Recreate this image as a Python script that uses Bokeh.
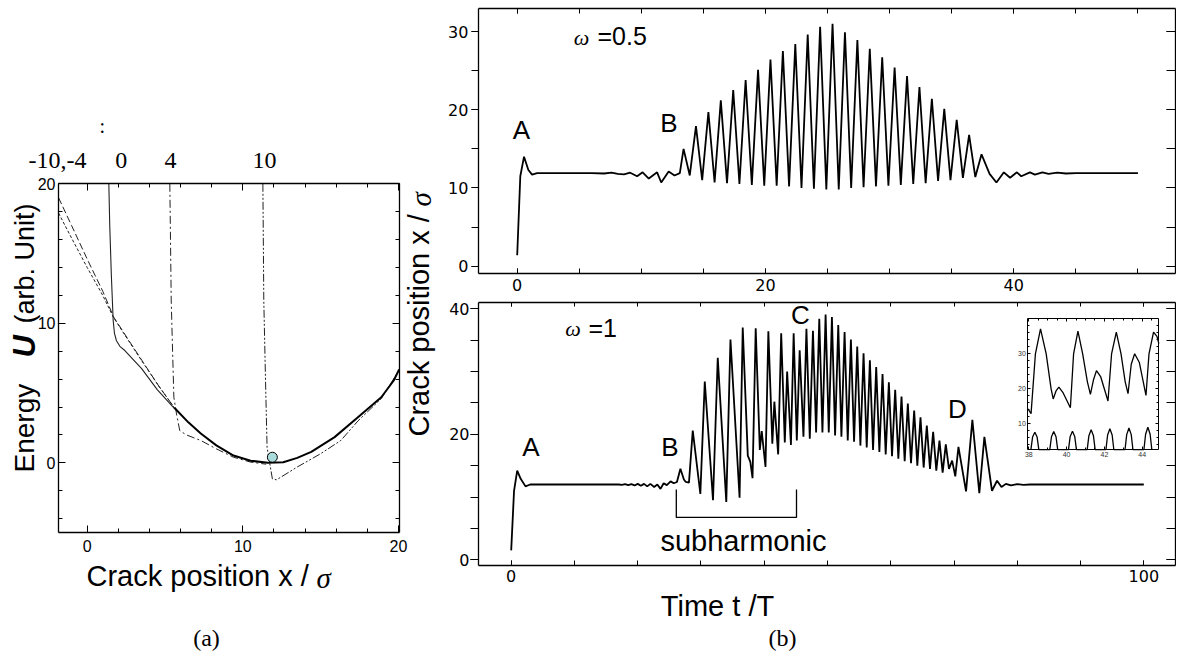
from math import pi
from bokeh.plotting import figure
from bokeh.models import (Range1d, LinearAxis, SingleIntervalTicker, Label,
                          CustomJSTickFormatter)
from bokeh.embed import file_html
from bokeh.resources import INLINE

# ---------------- data: panel (a)  energy U versus crack position x/sigma ----------------
ua_main_x = [5.6, 6.5, 7.3, 8.3, 9.4, 10.5, 11.6, 12.6, 13.5, 14.4, 15.9, 17.4, 18.9, 19.7, 20.05]
ua_main_u = [3.95, 2.9, 2.1, 1.25, 0.52, 0.15, 0.0, 0.04, 0.35, 0.78, 1.84, 3.27, 4.7, 5.9, 6.7]

ua_m10_x = [-1.84, -1.0, 0.0, 1.0, 1.7, 2.6, 3.6, 4.6, 5.6]
ua_m10_u = [19.0, 17.0, 14.6, 12.3, 10.45, 8.9, 7.2, 5.5, 3.95]

ua_m4_x = [-1.84, -1.0, 0.0, 1.0, 1.7, 2.6, 3.6, 4.6, 5.6]
ua_m4_u = [17.9, 16.1, 14.0, 12.0, 10.4, 8.85, 7.15, 5.5, 3.95]

ua_0_x = [1.39, 1.45, 1.55, 1.67, 1.75, 1.88, 2.1, 2.42, 3.5, 4.5, 5.6]
ua_0_u = [20.0, 17.0, 13.5, 10.2, 9.3, 8.75, 8.35, 8.05, 6.75, 5.25, 3.9]

ua_4_x = [5.31, 5.40, 5.50, 5.57, 5.74, 5.95, 6.38, 7.3, 8.3, 9.4, 10.5, 11.5]
ua_4_u = [20.0, 11.6, 7.5, 4.7, 3.5, 2.3, 2.0, 1.6, 1.0, 0.4, 0.05, -0.1]

ua_10_x = [11.29, 11.35, 11.46, 11.56, 11.9, 12.17, 13.5, 15.0, 16.3, 17.4, 18.9, 20.05]
ua_10_u = [20.0, 11.6, 5.9, 1.1, -1.15, -1.22, -0.3, 0.65, 1.6, 3.0, 4.6, 6.65]

ball_x = [11.9]
ball_u = [0.4]

wall_labels = ["-10,-4", "0", "4", "10"]

# ---------------- data: panel (b) top, omega = 0.5 ----------------
t_w05 = [0.0, 0.25, 0.55, 0.9, 1.2, 1.6, 6.0, 7.0, 7.6, 8.1, 8.6, 9.1, 9.66, 10.1, 10.6,
         11.27, 11.6, 12.2, 12.67, 13.1, 13.4, 13.9, 14.4, 14.9, 15.4, 15.9, 16.4, 16.9,
         17.4, 17.9, 18.4, 18.9, 19.4, 19.9, 20.4, 20.9, 21.4, 21.9, 22.4, 22.9, 23.4,
         23.9, 24.4, 24.9, 25.4, 25.9, 26.4, 26.9, 27.4, 27.9, 28.4, 28.9, 29.4, 29.9,
         30.4, 30.9, 31.4, 31.9, 32.4, 32.9, 33.4, 33.9, 34.4, 34.9, 35.4, 35.9, 36.4,
         36.9, 37.4, 38.05, 38.6, 39.2, 39.7, 40.25, 40.6, 41.3, 41.7, 42.3, 42.8, 43.5,
         44.2, 45.0, 50.0]
x_w05 = [1.4, 11.5, 14.0, 12.3, 11.7, 11.9, 11.9, 11.85, 11.95, 11.8, 11.75, 11.95, 11.5, 12.0, 11.2,
         12.0, 10.7, 12.1, 11.6, 11.9, 15.0, 11.6, 17.9, 11.0, 19.7, 10.7, 21.2, 10.6,
         22.5, 10.5, 23.8, 10.4, 25.1, 10.3, 26.4, 10.3, 27.5, 10.2, 28.4, 10.0, 29.6,
         9.9, 30.6, 9.8, 31.0, 9.8, 29.9, 10.0, 28.9, 10.1, 27.8, 10.2, 26.7, 10.3,
         25.4, 10.4, 24.3, 10.5, 22.9, 10.6, 21.4, 10.9, 20.1, 11.0, 18.7, 11.3, 16.8,
         11.4, 14.3, 11.8, 10.7, 12.0, 11.3, 12.0, 11.5, 12.0, 11.7, 12.0, 11.8, 11.95,
         11.85, 11.9, 11.9]

# ---------------- data: panel (b) bottom, omega = 1 ----------------
t_w1 = [0.0, 0.45, 0.95, 1.5, 2.26, 3.0, 17.0, 17.5, 18.0, 18.5, 19.0, 19.5, 20.0, 20.5,
        21.0, 21.5, 22.0, 22.6, 23.1, 23.6, 24.1, 24.6, 25.2, 25.7, 26.2, 26.75, 27.3,
        27.6, 28.1, 28.7, 29.9, 30.6, 31.9, 32.65, 34.0, 34.66, 36.1, 36.6, 37.4, 37.8,
        38.15, 38.65, 39.3, 39.6, 40.2, 40.65, 41.28, 41.6, 42.2, 42.68, 43.25, 43.62,
        44.22, 44.65, 45.15, 45.6, 46.2, 46.67, 47.2, 47.7, 48.2, 48.7, 49.2, 49.7, 50.2,
        50.7, 51.2, 51.7, 52.2, 52.7, 53.2, 53.7, 54.2, 54.7, 55.2, 55.7, 56.2, 56.7,
        57.2, 57.7, 58.2, 58.7, 59.2, 59.7, 60.2, 60.7, 61.2, 61.7, 62.2, 62.7, 63.2,
        63.7, 64.2, 64.7, 65.2, 65.7, 66.2, 66.7, 67.2, 67.7, 68.2, 68.7, 69.2, 69.7,
        70.2, 70.7, 71.9, 72.9, 74.0, 74.8, 76.0, 76.8, 77.5, 78.2, 79.0, 80.0, 81.0,
        82.0, 100.0]
x_w1 = [1.5, 11.0, 14.2, 12.9, 11.7, 12.0, 12.0, 11.95, 12.05, 11.9, 12.05, 11.85, 12.1, 11.8,
        12.1, 11.7, 12.1, 11.6, 12.0, 11.3, 12.2, 11.9, 12.5, 12.2, 12.4, 14.5, 12.8,
        12.4, 12.3, 20.6, 10.5, 28.4, 9.5, 32.2, 9.2, 35.1, 9.9, 37.0, 16.6, 15.6,
        13.0, 36.9, 17.5, 20.5, 14.8, 36.4, 18.5, 25.2, 16.8, 36.1, 18.7, 30.0,
        18.3, 36.1, 19.0, 33.4, 19.6, 36.8, 19.3, 36.5, 20.3, 38.4, 20.3, 39.1, 20.3,
        38.7, 19.8, 37.4, 19.6, 36.3, 19.0, 35.1, 18.8, 34.0, 18.2, 32.9, 17.9, 31.8,
        17.5, 30.7, 17.2, 29.6, 16.8, 28.3, 16.5, 27.1, 16.1, 26.0, 15.7, 24.9, 15.4,
        23.8, 15.0, 22.7, 14.7, 21.4, 14.5, 20.4, 14.2, 19.0, 13.9, 18.4, 14.5, 15.8,
        13.3, 18.0, 10.9, 22.3, 10.6, 19.6, 11.0, 12.6, 11.6, 12.1, 11.85, 12.05, 11.95,
        12.0, 12.0]

# inset (t = 38..45 of the omega = 1 run): upper trace and lower trace (arches)
inset_hi_t = [37.95, 38.12, 38.35, 38.62, 38.92, 39.18, 39.29, 39.45, 39.59, 39.8, 40.2,
              40.37, 40.6, 40.85, 41.1, 41.26, 41.42, 41.58, 41.8, 42.19, 42.38, 42.63,
              42.88, 43.1, 43.25, 43.42, 43.6, 43.85, 44.2, 44.36, 44.6, 44.78, 44.88]
inset_hi_y = [14.3, 12.9, 30.0, 37.1, 30.0, 20.0, 17.1, 19.5, 20.5, 19.0, 14.6,
              30.0, 36.5, 30.0, 22.0, 18.4, 22.5, 25.2, 23.5, 16.5, 30.0, 36.2,
              30.0, 22.0, 18.6, 27.0, 30.0, 27.5, 18.1, 30.0, 36.2, 35.0, 32.9]
inset_lo_t = [38.11, 38.20, 38.32, 38.44, 38.53, 39.11, 39.20, 39.32, 39.44, 39.53,
              40.10, 40.19, 40.31, 40.43, 40.52, 41.09, 41.18, 41.30, 41.42, 41.51,
              42.08, 42.17, 42.29, 42.41, 42.50, 43.09, 43.18, 43.30, 43.42, 43.51,
              44.09, 44.18, 44.30, 44.42, 44.51]
inset_lo_y = [2.6, 6.2, 7.6, 6.2, 2.6, 2.6, 6.3, 7.8, 6.3, 2.6,
              2.6, 6.4, 7.9, 6.4, 2.6, 2.6, 6.6, 8.3, 6.6, 2.6,
              2.6, 6.8, 8.6, 6.8, 2.6, 2.6, 6.9, 8.8, 6.9, 2.6,
              2.6, 7.0, 9.0, 7.0, 2.6]

# subharmonic bracket (time span and levels)
sub_t = [26.1, 26.1, 45.1, 45.1]
sub_y = [11.2, 6.75, 6.75, 11.2]

SANS = "Liberation Sans"
SERIF = "Liberation Serif"
TICKF = "DejaVu Sans"

W, H = 1176, 655

p = figure(width=W, height=H, x_range=Range1d(0, W), y_range=Range1d(H, 0),
           output_backend="svg", toolbar_location=None,
           x_axis_type=None, y_axis_type=None,
           min_border=0, min_border_left=0, min_border_right=0,
           min_border_top=0, min_border_bottom=0)
p.outline_line_color = None
p.background_fill_color = "white"
p.border_fill_color = "white"


def xr_from(v0, p0, v1, p1):
    s = (p1 - p0) / (v1 - v0)
    return Range1d(v0 + (0 - p0) / s, v0 + (W - p0) / s)


def yr_from(v0, p0, v1, p1):
    s = (p0 - p1) / (v1 - v0)
    return Range1d(v0 - (H - p0) / s, v0 + p0 / s)


# panel boxes (page layout -> coordinate systems)
p.extra_x_ranges = {
    "ax": xr_from(0, 86.7, 10, 242.3),
    "b1x": xr_from(0, 516.7, 40, 1013.3),
    "b2x": xr_from(0, 510.7, 100, 1143.3),
    "ix": xr_from(38, 1028.3, 44, 1141.7),
}
p.extra_y_ranges = {
    "ay": yr_from(0, 462.3, 20, 183.3),
    "b1y": yr_from(0, 265.7, 30, 31.0),
    "b2y": yr_from(0, 559.3, 40, 308.3),
    "iy": yr_from(10, 423.3, 30, 353.3),
}


def axis(side, xn, yn, fixed, bounds, interval, nminor, tin, tout, mtin, mtout,
         labels=True, font=SANS, size="16px", standoff=4, lw=1.3, color="black"):
    ax = LinearAxis(x_range_name=xn, y_range_name=yn, fixed_location=fixed, bounds=bounds,
                    ticker=SingleIntervalTicker(interval=interval, num_minor_ticks=nminor))
    ax.axis_line_color = "black"
    ax.axis_line_width = lw
    ax.major_tick_in = tin
    ax.major_tick_out = tout
    ax.minor_tick_in = mtin
    ax.minor_tick_out = mtout
    ax.major_tick_line_color = "black"
    ax.minor_tick_line_color = "black"
    ax.major_tick_line_width = 1
    ax.minor_tick_line_width = 1
    if labels:
        ax.major_label_text_font = font
        ax.major_label_text_font_size = size
        ax.major_label_standoff = standoff
        ax.major_label_text_color = color
    else:
        ax.formatter = CustomJSTickFormatter(code="return ''")
        ax.major_label_text_font_size = "1px"
        ax.major_label_standoff = 0
    p.add_layout(ax, side)
    return ax


def lab(px, py, text, font=SANS, size="25px", style="normal",
        align="center", baseline="middle", angle=0.0):
    p.add_layout(Label(x=px, y=py, text=text, text_font=font, text_font_size=size,
                       text_font_style=style, text_align=align, text_baseline=baseline,
                       angle=angle, text_color="black"))


# ================= panel (a) =================
AXB = (-1.845, 20.07)
AYB = (-5.0, 20.0)
axis("below", "ax", "ay", AYB[0], AXB, 10, 5, 7, 0, 4, 0, size="16px", standoff=7)
axis("above", "ax", "ay", AYB[1], AXB, 10, 5, 7, 0, 4, 0, labels=False)
axis("left", "ax", "ay", AXB[0], AYB, 10, 5, 7, 0, 4, 0, size="16px", standoff=3)
axis("right", "ax", "ay", AXB[1], AYB, 10, 5, 7, 0, 4, 0, labels=False)

gray = "#222222"
A = dict(x_range_name="ax", y_range_name="ay")
p.line(ua_m10_x, ua_m10_u, line_color=gray, line_width=1.0, line_dash="7 3", **A)
p.line(ua_m4_x, ua_m4_u, line_color=gray, line_width=1.0, line_dash="3 2", **A)
p.line(ua_0_x, ua_0_u, line_color=gray, line_width=1.1, **A)
p.line(ua_4_x, ua_4_u, line_color=gray, line_width=1.0, line_dash="8 3 2 3", **A)
p.line(ua_10_x, ua_10_u, line_color=gray, line_width=1.0, line_dash="8 2 2 2 2 2", **A)
p.line(ua_main_x, ua_main_u, line_color="black", line_width=2.0, **A)
p.scatter(ball_x, ball_u, size=10, fill_color="#aadbdb", line_color="black", line_width=1, **A)

lab(57, 160, wall_labels[0], font=SERIF, size="24px")
lab(120.7, 160, wall_labels[1], font=SERIF, size="24px")
lab(170, 160, wall_labels[2], font=SERIF, size="24px")
lab(264, 160, wall_labels[3], font=SERIF, size="24px")
lab(101.7, 125, ":", font=SERIF, size="20px")
lab(24, 472, "Energy", size="28px", align="left", angle=pi / 2)
lab(24, 357, "U", size="31px", style="bold italic", align="left", angle=pi / 2)
lab(24, 323, "(arb. Unit)", size="27px", align="left", angle=pi / 2)
lab(86, 575, "Crack position x / ", size="29px", align="left")
lab(316, 577, "\u03c3", font=SERIF, size="29px", style="italic", align="left")
lab(206, 637, "(a)", font=SERIF, size="24px")

# shared vertical label of panel (b)
lab(418, 436, "Crack position x / ", size="29px", align="left", angle=pi / 2)
lab(420, 206, "\u03c3", font=SERIF, size="29px", style="italic", align="left", angle=pi / 2)

# ================= panel (b) top =================
B1XB = (-3.12, 53.0)
B1YB = (-0.97, 32.9)
axis("below", "b1x", "b1y", B1YB[0], B1XB, 20, 4, 5, 0, 5, 0, font=TICKF, size="16px", standoff=5)
axis("above", "b1x", "b1y", B1YB[1], B1XB, 20, 4, 5, 0, 5, 0, labels=False)
axis("left", "b1x", "b1y", B1XB[0], B1YB, 10, 2, 0, 7, 0, 7, font=TICKF, size="16px", standoff=3)
axis("right", "b1x", "b1y", B1XB[1], B1YB, 10, 2, 9, 0, 9, 0, labels=False)
p.line(t_w05, x_w05, line_color="black", line_width=1.8, x_range_name="b1x", y_range_name="b1y")
lab(581, 37, "\u03c9", font=SERIF, size="22px", style="italic")
lab(597, 35, "=0.5", size="25px", align="left")
lab(521, 129, "A", size="26px")
lab(668.5, 122, "B", size="26px")

# ================= panel (b) bottom =================
B2XB = (-5.17, 105.0)
B2YB = (-0.91, 41.05)
axis("below", "b2x", "b2y", B2YB[0], B2XB, 100, 10, 5, 0, 5, 0, font=TICKF, size="16px", standoff=4)
axis("above", "b2x", "b2y", B2YB[1], B2XB, 100, 10, 4, 0, 4, 0, labels=False)
axis("left", "b2x", "b2y", B2XB[0], B2YB, 20, 4, 0, 8, 0, 8, font=TICKF, size="16px", standoff=1)
axis("right", "b2x", "b2y", B2XB[1], B2YB, 20, 4, 9, 0, 9, 0, labels=False)
B2 = dict(x_range_name="b2x", y_range_name="b2y")
p.line(t_w1, x_w1, line_color="black", line_width=1.8, **B2)
p.line(sub_t, sub_y, line_color="black", line_width=1.3, **B2)
lab(572.5, 327.5, "\u03c9", font=SERIF, size="22px", style="italic")
lab(588, 327.5, "=1", size="25px", align="left")
lab(530.5, 446, "A", size="26px")
lab(669.5, 446, "B", size="26px")
lab(800, 314, "C", size="26px")
lab(957, 408, "D", size="26px")
lab(743, 540, "subharmonic", size="29px")
lab(717, 605, "Time t /T", size="29px")
lab(782, 637, "(b)", font=SERIF, size="24px")

# ================= inset =================
IXB = (37.95, 44.88)
IYB = (2.57, 39.99)
axis("below", "ix", "iy", IYB[0], IXB, 2, 4, 3, 0, 2, 0, size="7px", standoff=2, lw=1.0,
     color="#333333")
axis("above", "ix", "iy", IYB[1], IXB, 2, 4, 3, 0, 2, 0, labels=False, lw=1.0)
axis("left", "ix", "iy", IXB[0], IYB, 10, 5, 3, 0, 2, 0, size="7px", standoff=2, lw=1.0,
     color="#333333")
axis("right", "ix", "iy", IXB[1], IYB, 10, 5, 3, 0, 2, 0, labels=False, lw=1.0)
IN = dict(x_range_name="ix", y_range_name="iy")
p.line(inset_hi_t, inset_hi_y, line_color="black", line_width=1.3, **IN)
p.line(inset_lo_t, inset_lo_y, line_color="black", line_width=1.3, **IN)

open("out.html", "w").write(file_html(p, INLINE, "plot"))
